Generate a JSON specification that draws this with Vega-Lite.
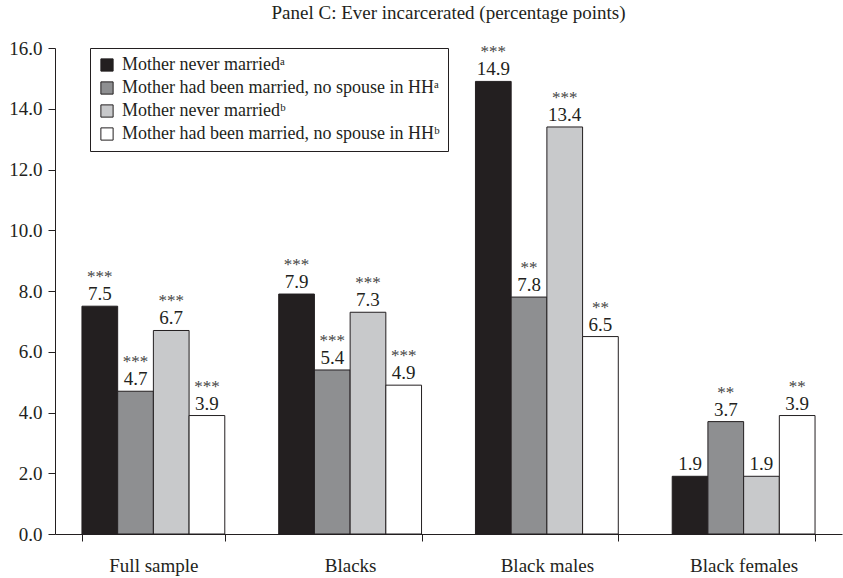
{
  "$schema": "https://vega.github.io/schema/vega-lite/v6.json",
  "width": 787,
  "height": 486,
  "autosize": "none",
  "padding": {"left": 55, "top": 48, "right": 1, "bottom": 44},
  "background": "white",
  "config": {"font": "Liberation Serif", "view": {"stroke": null}},
  "title": {"text": "Panel C: Ever incarcerated (percentage points)", "fontSize": 19, "font": "Liberation Serif", "fontWeight": "normal", "color": "#231f20", "offset": 16, "anchor": "middle"},
  "data": {"values": [
    {"group": "Full sample", "series": "Mother never marriedᵃ", "value": 7.5, "stars": "***"},
    {"group": "Full sample", "series": "Mother had been married, no spouse in HHᵃ", "value": 4.7, "stars": "***"},
    {"group": "Full sample", "series": "Mother never marriedᵇ", "value": 6.7, "stars": "***"},
    {"group": "Full sample", "series": "Mother had been married, no spouse in HHᵇ", "value": 3.9, "stars": "***"},
    {"group": "Blacks", "series": "Mother never marriedᵃ", "value": 7.9, "stars": "***"},
    {"group": "Blacks", "series": "Mother had been married, no spouse in HHᵃ", "value": 5.4, "stars": "***"},
    {"group": "Blacks", "series": "Mother never marriedᵇ", "value": 7.3, "stars": "***"},
    {"group": "Blacks", "series": "Mother had been married, no spouse in HHᵇ", "value": 4.9, "stars": "***"},
    {"group": "Black males", "series": "Mother never marriedᵃ", "value": 14.9, "stars": "***"},
    {"group": "Black males", "series": "Mother had been married, no spouse in HHᵃ", "value": 7.8, "stars": "**"},
    {"group": "Black males", "series": "Mother never marriedᵇ", "value": 13.4, "stars": "***"},
    {"group": "Black males", "series": "Mother had been married, no spouse in HHᵇ", "value": 6.5, "stars": "**"},
    {"group": "Black females", "series": "Mother never marriedᵃ", "value": 1.9, "stars": ""},
    {"group": "Black females", "series": "Mother had been married, no spouse in HHᵃ", "value": 3.7, "stars": "**"},
    {"group": "Black females", "series": "Mother never marriedᵇ", "value": 1.9, "stars": ""},
    {"group": "Black females", "series": "Mother had been married, no spouse in HHᵇ", "value": 3.9, "stars": "**"}
  ]},
  "encoding": {
    "x": {
      "field": "group", "type": "nominal",
      "sort": ["Full sample", "Blacks", "Black males", "Black females"],
      "scale": {"paddingInner": 0.274, "paddingOuter": 0.137},
      "axis": {"title": null, "labelAngle": 0, "tickBand": "extent", "tickSize": 7, "tickColor": "#231f20", "domainColor": "#231f20", "labelFontSize": 19, "labelColor": "#231f20", "labelPadding": 15, "labelFont": "Liberation Serif"}
    },
    "xOffset": {
      "field": "series", "type": "nominal",
      "sort": ["Mother never marriedᵃ", "Mother had been married, no spouse in HHᵃ", "Mother never marriedᵇ", "Mother had been married, no spouse in HHᵇ"],
      "scale": {"paddingInner": 0, "paddingOuter": 0}
    },
    "y": {
      "field": "value", "type": "quantitative",
      "scale": {"domain": [0, 16], "nice": false},
      "axis": {"title": null, "values": [0, 2, 4, 6, 8, 10, 12, 14, 16], "format": ".1f", "grid": false, "tickSize": 7, "tickColor": "#231f20", "domainColor": "#231f20", "labelFontSize": 19, "labelColor": "#231f20", "labelPadding": 6, "labelFont": "Liberation Serif"}
    }
  },
  "layer": [
    {
      "mark": {"type": "bar", "stroke": "#231f20", "strokeWidth": 1},
      "encoding": {
        "color": {
          "field": "series", "type": "nominal",
          "scale": {"domain": ["Mother never marriedᵃ", "Mother had been married, no spouse in HHᵃ", "Mother never marriedᵇ", "Mother had been married, no spouse in HHᵇ"], "range": ["#231f20", "#8e8f91", "#c8c9cb", "#ffffff"]},
          "legend": {"title": null, "orient": "none", "legendX": 35, "legendY": 0, "strokeColor": "#231f20", "fillColor": "white", "padding": 8, "symbolType": "square", "symbolSize": 150, "symbolStrokeColor": "#231f20", "symbolStrokeWidth": 1, "symbolOpacity": 1, "labelFontSize": 18, "labelFont": "Liberation Serif", "labelColor": "#231f20", "labelLimit": 400, "rowPadding": 5, "labelOffset": 6}
        }
      }
    },
    {
      "mark": {"type": "text", "baseline": "alphabetic", "dy": -6, "fontSize": 19, "color": "#231f20", "font": "Liberation Serif"},
      "encoding": {"text": {"field": "value", "type": "quantitative", "format": ".1f"}}
    },
    {
      "mark": {"type": "text", "baseline": "alphabetic", "dy": -24, "fontSize": 17, "color": "#444444", "font": "Liberation Serif"},
      "encoding": {"text": {"field": "stars", "type": "nominal"}}
    }
  ]
}
